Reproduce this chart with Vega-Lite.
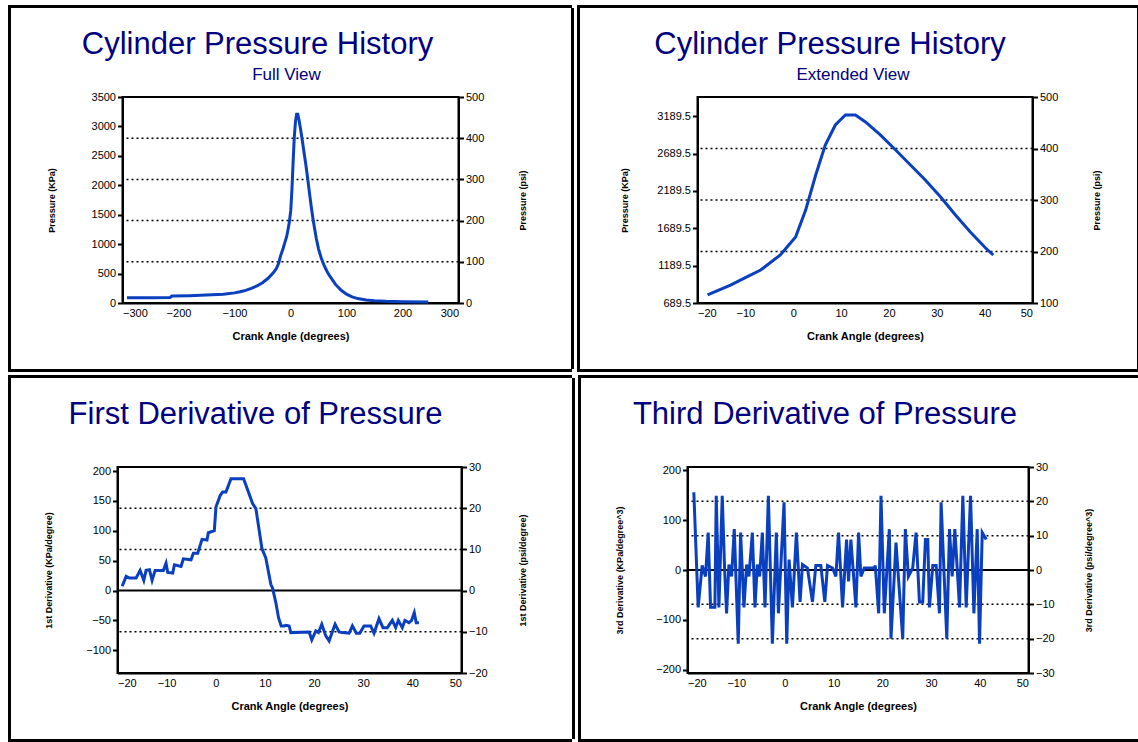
{
  "$schema": "https://vega.github.io/schema/vega-lite/v6.json",
  "background": "white",
  "padding": {"left": 8, "top": 5, "right": 0, "bottom": 0},
  "spacing": 3,
  "datasets": {
    "none": [],
    "pressure": [
      {"angle": -292, "kpa": 88}, {"angle": -250, "kpa": 90}, {"angle": -215, "kpa": 92},
      {"angle": -212, "kpa": 118}, {"angle": -180, "kpa": 125}, {"angle": -150, "kpa": 135},
      {"angle": -120, "kpa": 150}, {"angle": -100, "kpa": 172}, {"angle": -90, "kpa": 190},
      {"angle": -80, "kpa": 215}, {"angle": -70, "kpa": 250}, {"angle": -60, "kpa": 290},
      {"angle": -50, "kpa": 345}, {"angle": -40, "kpa": 420}, {"angle": -30, "kpa": 520},
      {"angle": -25, "kpa": 590}, {"angle": -21, "kpa": 680}, {"angle": -17.9, "kpa": 797},
      {"angle": -13.1, "kpa": 930}, {"angle": -10, "kpa": 1030}, {"angle": -6.8, "kpa": 1131},
      {"angle": -2.7, "kpa": 1332}, {"angle": 0.5, "kpa": 1573}, {"angle": 2.6, "kpa": 1934},
      {"angle": 4.7, "kpa": 2403}, {"angle": 6.7, "kpa": 2805}, {"angle": 8.8, "kpa": 3073},
      {"angle": 10.9, "kpa": 3206}, {"angle": 13.0, "kpa": 3206}, {"angle": 15.1, "kpa": 3113},
      {"angle": 18.2, "kpa": 2939}, {"angle": 21.4, "kpa": 2738}, {"angle": 24.5, "kpa": 2537},
      {"angle": 27.6, "kpa": 2336}, {"angle": 30.8, "kpa": 2108}, {"angle": 33.9, "kpa": 1867},
      {"angle": 37.0, "kpa": 1640}, {"angle": 40.2, "kpa": 1426}, {"angle": 41.8, "kpa": 1332},
      {"angle": 46, "kpa": 1100}, {"angle": 50, "kpa": 920}, {"angle": 55, "kpa": 760},
      {"angle": 60, "kpa": 640}, {"angle": 65, "kpa": 540}, {"angle": 70, "kpa": 460},
      {"angle": 80, "kpa": 320}, {"angle": 90, "kpa": 220}, {"angle": 100, "kpa": 150},
      {"angle": 110, "kpa": 105}, {"angle": 120, "kpa": 75}, {"angle": 135, "kpa": 50},
      {"angle": 150, "kpa": 38}, {"angle": 170, "kpa": 28}, {"angle": 200, "kpa": 20},
      {"angle": 246, "kpa": 15}
    ],
    "first": [
      {"angle": -19.05, "v": 7.2}, {"angle": -18.24, "v": 23.8}, {"angle": -17.56, "v": 21.0},
      {"angle": -16.21, "v": 21.0}, {"angle": -15.40, "v": 33.8}, {"angle": -14.65, "v": 17.2},
      {"angle": -14.18, "v": 33.8}, {"angle": -13.50, "v": 34.9}, {"angle": -12.96, "v": 17.2},
      {"angle": -12.35, "v": 33.8}, {"angle": -10.66, "v": 33.8}, {"angle": -10.12, "v": 45.9},
      {"angle": -9.78, "v": 30.4}, {"angle": -8.76, "v": 29.3}, {"angle": -8.42, "v": 43.2},
      {"angle": -7.07, "v": 40.4}, {"angle": -6.60, "v": 53.1}, {"angle": -5.04, "v": 51.5},
      {"angle": -4.56, "v": 62.5}, {"angle": -3.68, "v": 62.5}, {"angle": -2.80, "v": 85.8},
      {"angle": -1.79, "v": 84.7}, {"angle": -1.52, "v": 96.8}, {"angle": -0.30, "v": 100.2},
      {"angle": 0.04, "v": 140.0}, {"angle": 0.92, "v": 159.4}, {"angle": 1.39, "v": 164.9},
      {"angle": 2.07, "v": 164.9}, {"angle": 3.09, "v": 187.0}, {"angle": 5.66, "v": 187.0},
      {"angle": 7.49, "v": 145.5}, {"angle": 8.16, "v": 137.2}, {"angle": 9.38, "v": 70.8},
      {"angle": 10.19, "v": 54.2}, {"angle": 11.21, "v": 10.0}, {"angle": 11.55, "v": 4.4},
      {"angle": 12.23, "v": -20.5}, {"angle": 12.77, "v": -45.4}, {"angle": 13.31, "v": -59.2},
      {"angle": 13.92, "v": -59.2}, {"angle": 14.26, "v": -58.1}, {"angle": 14.93, "v": -59.2},
      {"angle": 15.27, "v": -70.3}, {"angle": 19.00, "v": -69.2}, {"angle": 19.54, "v": -82.5},
      {"angle": 20.35, "v": -67.5}, {"angle": 20.89, "v": -70.3}, {"angle": 21.57, "v": -56.4},
      {"angle": 22.38, "v": -75.8}, {"angle": 23.06, "v": -84.1}, {"angle": 24.28, "v": -56.4},
      {"angle": 25.09, "v": -69.2}, {"angle": 25.77, "v": -70.3}, {"angle": 27.12, "v": -71.4},
      {"angle": 27.80, "v": -59.2}, {"angle": 28.61, "v": -71.4}, {"angle": 29.29, "v": -71.4},
      {"angle": 30.17, "v": -59.2}, {"angle": 31.52, "v": -59.2}, {"angle": 32.20, "v": -71.4},
      {"angle": 33.21, "v": -47.0}, {"angle": 34.02, "v": -62.0}, {"angle": 34.90, "v": -62.0},
      {"angle": 35.92, "v": -49.8}, {"angle": 36.60, "v": -62.0}, {"angle": 37.14, "v": -49.8},
      {"angle": 37.95, "v": -62.0}, {"angle": 38.49, "v": -49.8}, {"angle": 39.31, "v": -53.7},
      {"angle": 39.85, "v": -49.8}, {"angle": 40.39, "v": -37.1}, {"angle": 40.79, "v": -53.7},
      {"angle": 41.34, "v": -53.7}
    ],
    "third": [
      {"angle": -18.70, "v": 156}, {"angle": -17.81, "v": -75}, {"angle": -16.99, "v": 9},
      {"angle": -16.30, "v": -13}, {"angle": -15.75, "v": 75}, {"angle": -15.27, "v": -75},
      {"angle": -14.38, "v": -75}, {"angle": -14.10, "v": 149}, {"angle": -13.55, "v": -75},
      {"angle": -12.87, "v": 149}, {"angle": -12.39, "v": 4}, {"angle": -11.98, "v": -87},
      {"angle": -11.50, "v": 11}, {"angle": -10.95, "v": -13}, {"angle": -10.40, "v": 82},
      {"angle": -9.58, "v": -148}, {"angle": -9.10, "v": 75}, {"angle": -8.41, "v": -75},
      {"angle": -7.86, "v": 11}, {"angle": -7.38, "v": -13}, {"angle": -6.69, "v": 75},
      {"angle": -6.15, "v": -75}, {"angle": -5.67, "v": 11}, {"angle": -5.19, "v": -13},
      {"angle": -4.64, "v": 75}, {"angle": -4.09, "v": -75}, {"angle": -3.40, "v": 149},
      {"angle": -2.58, "v": -148}, {"angle": -1.76, "v": 75}, {"angle": -1.34, "v": -87},
      {"angle": -0.18, "v": 136}, {"angle": 0.37, "v": -148}, {"angle": 0.85, "v": 21},
      {"angle": 1.54, "v": -75}, {"angle": 2.36, "v": 75}, {"angle": 3.11, "v": -64},
      {"angle": 3.60, "v": 11}, {"angle": 4.62, "v": 4}, {"angle": 5.65, "v": -64},
      {"angle": 6.34, "v": 9}, {"angle": 7.37, "v": 9}, {"angle": 8.19, "v": -64},
      {"angle": 8.74, "v": 9}, {"angle": 9.77, "v": 4}, {"angle": 10.46, "v": -13},
      {"angle": 11.00, "v": 75}, {"angle": 11.83, "v": -75}, {"angle": 12.65, "v": 61},
      {"angle": 13.06, "v": -23}, {"angle": 13.54, "v": 61}, {"angle": 14.57, "v": -75},
      {"angle": 15.12, "v": 75}, {"angle": 15.60, "v": -13}, {"angle": 16.29, "v": 4},
      {"angle": 18.34, "v": 4}, {"angle": 18.55, "v": 9}, {"angle": 19.24, "v": -87},
      {"angle": 19.72, "v": 149}, {"angle": 20.40, "v": -87}, {"angle": 21.43, "v": 82},
      {"angle": 21.77, "v": -138}, {"angle": 22.80, "v": 55}, {"angle": 24.18, "v": -138},
      {"angle": 24.72, "v": 82}, {"angle": 25.34, "v": -13}, {"angle": 26.23, "v": 4},
      {"angle": 26.92, "v": 75}, {"angle": 27.61, "v": -64}, {"angle": 28.29, "v": -64},
      {"angle": 28.84, "v": 61}, {"angle": 29.32, "v": 61}, {"angle": 29.66, "v": -75},
      {"angle": 30.35, "v": 9}, {"angle": 31.04, "v": 9}, {"angle": 31.72, "v": -87},
      {"angle": 32.06, "v": 136}, {"angle": 33.23, "v": -138}, {"angle": 33.78, "v": 82},
      {"angle": 34.33, "v": -13}, {"angle": 34.88, "v": 82}, {"angle": 35.84, "v": -75},
      {"angle": 36.52, "v": 149}, {"angle": 37.21, "v": -75}, {"angle": 38.10, "v": 149},
      {"angle": 38.79, "v": -87}, {"angle": 39.47, "v": 82}, {"angle": 39.95, "v": -148},
      {"angle": 40.50, "v": 75}, {"angle": 41.33, "v": 61}
    ]
  },
  "vconcat": [
    {
      "spacing": 3,
      "hconcat": [
        {
          "spacing": 0,
          "vconcat": [
            {"width": 564, "height": 3, "data": {"name": "none"}, "mark": "rect", "encoding": {}, "view": {"fill": "black", "stroke": null}},
            {
              "spacing": 35.5,
              "hconcat": [
                {"width": 3, "height": 361, "data": {"name": "none"}, "mark": "rect", "encoding": {}, "view": {"fill": "black", "stroke": null}},
                {
                  "spacing": 42.5,
                  "hconcat": [
                    {
                      "spacing": 5,
                      "vconcat": [
                        {"width": 336, "height": 1, "data": {"name": "none"}, "mark": "rect", "encoding": {}, "view": {"stroke": null},
                          "title": {"text": "Cylinder Pressure History", "orient": "bottom", "offset": 21, "dx": -33}},
                        {
                          "width": 336,
                          "height": 206,
                          "title": {"text": "Full View", "fontSize": 17, "dx": -4, "offset": 7},
                          "layer": [
                            {
                              "data": {"values": [{"psi": 100}, {"psi": 200}, {"psi": 300}, {"psi": 400}]},
                              "mark": {"type": "rule", "color": "black", "strokeWidth": 1.5, "strokeDash": [2, 3]},
                              "encoding": {
                                "y": {"field": "psi", "type": "quantitative", "scale": {"domain": [0, 500]},
                                  "axis": {"orient": "right", "values": [0, 100, 200, 300, 400, 500], "title": "Pressure (psi)", "titleX": 64, "titleAngle": 90}}
                              }
                            },
                            {
                              "data": {"name": "pressure"},
                              "mark": {"type": "line", "color": "#0a3fc0", "strokeWidth": 3},
                              "encoding": {
                                "x": {"field": "angle", "type": "quantitative", "scale": {"domain": [-300, 300]},
                                  "axis": {"values": [-300, -200, -100, 0, 100, 200, 300], "title": "Crank Angle (degrees)"}},
                                "y": {"field": "kpa", "type": "quantitative", "scale": {"domain": [0, 3500]},
                                  "axis": {"orient": "left", "values": [0, 500, 1000, 1500, 2000, 2500, 3000, 3500], "format": "d", "title": "Pressure (KPa)", "titleX": -71}}
                              }
                            }
                          ],
                          "resolve": {"scale": {"y": "independent"}, "axis": {"y": "independent"}}
                        }
                      ]
                    },
                    {"width": 3, "height": 361, "data": {"name": "none"}, "mark": "rect", "encoding": {}, "view": {"fill": "black", "stroke": null}}
                  ]
                }
              ]
            },
            {"width": 564, "height": 3, "data": {"name": "none"}, "mark": "rect", "encoding": {}, "view": {"fill": "black", "stroke": null}}
          ]
        },
        {
          "spacing": 0,
          "vconcat": [
            {"width": 561, "height": 3, "data": {"name": "none"}, "mark": "rect", "encoding": {}, "view": {"fill": "black", "stroke": null}},
            {
              "spacing": 39.5,
              "hconcat": [
                {"width": 3, "height": 361, "data": {"name": "none"}, "mark": "rect", "encoding": {}, "view": {"fill": "black", "stroke": null}},
                {
                  "spacing": 34.5,
                  "hconcat": [
                    {
                      "spacing": 5,
                      "vconcat": [
                        {"width": 335, "height": 1, "data": {"name": "none"}, "mark": "rect", "encoding": {}, "view": {"stroke": null},
                          "title": {"text": "Cylinder Pressure History", "orient": "bottom", "offset": 21, "dx": -35}},
                        {
                          "width": 335,
                          "height": 206,
                          "title": {"text": "Extended View", "fontSize": 17, "dx": -12, "offset": 7},
                          "layer": [
                            {
                              "data": {"values": [{"psi": 200}, {"psi": 300}, {"psi": 400}]},
                              "mark": {"type": "rule", "color": "black", "strokeWidth": 1.5, "strokeDash": [2, 3]},
                              "encoding": {
                                "y": {"field": "psi", "type": "quantitative", "scale": {"domain": [100, 500]},
                                  "axis": {"orient": "right", "values": [100, 200, 300, 400, 500], "title": "Pressure (psi)", "titleX": 64, "titleAngle": 90}}
                              }
                            },
                            {
                              "data": {"name": "pressure"},
                              "transform": [{"filter": "datum.angle >= -18 && datum.angle <= 42"}],
                              "mark": {"type": "line", "color": "#0a3fc0", "strokeWidth": 3},
                              "encoding": {
                                "x": {"field": "angle", "type": "quantitative", "scale": {"domain": [-20, 50]},
                                  "axis": {"values": [-20, -10, 0, 10, 20, 30, 40, 50], "title": "Crank Angle (degrees)"}},
                                "y": {"field": "kpa", "type": "quantitative", "scale": {"domain": [689.5, 3447.4]},
                                  "axis": {"orient": "left", "values": [689.5, 1189.5, 1689.5, 2189.5, 2689.5, 3189.5], "format": ".1f", "title": "Pressure (KPa)", "titleX": -73}}
                              }
                            }
                          ],
                          "resolve": {"scale": {"y": "independent"}, "axis": {"y": "independent"}}
                        }
                      ]
                    },
                    {"width": 3, "height": 361, "data": {"name": "none"}, "mark": "rect", "encoding": {}, "view": {"fill": "black", "stroke": null}}
                  ]
                }
              ]
            },
            {"width": 561, "height": 3, "data": {"name": "none"}, "mark": "rect", "encoding": {}, "view": {"fill": "black", "stroke": null}}
          ]
        }
      ]
    },
    {
      "spacing": 3,
      "hconcat": [
        {
          "spacing": 0,
          "vconcat": [
            {"width": 564, "height": 3, "data": {"name": "none"}, "mark": "rect", "encoding": {}, "view": {"fill": "black", "stroke": null}},
            {
              "spacing": 31.5,
              "hconcat": [
                {"width": 3, "height": 361, "data": {"name": "none"}, "mark": "rect", "encoding": {}, "view": {"fill": "black", "stroke": null}},
                {
                  "spacing": 43.5,
                  "hconcat": [
                    {
                      "spacing": 30,
                      "vconcat": [
                        {"width": 344, "height": 1, "data": {"name": "none"}, "mark": "rect", "encoding": {}, "view": {"stroke": null},
                          "title": {"text": "First Derivative of Pressure", "orient": "bottom", "offset": 21, "dx": -34}},
                        {
                          "width": 344,
                          "height": 206,
                          "layer": [
                            {
                              "data": {"values": [{"psi": -10}, {"psi": 10}, {"psi": 20}]},
                              "mark": {"type": "rule", "color": "black", "strokeWidth": 1.5, "strokeDash": [2, 3]},
                              "encoding": {
                                "y": {"field": "psi", "type": "quantitative", "scale": {"domain": [-20, 30]},
                                  "axis": {"orient": "right", "values": [-20, -10, 0, 10, 20, 30], "title": "1st Derivative (psi/degree)", "titleX": 61, "titleAngle": 90}}
                              }
                            },
                            {
                              "data": {"values": [{"psi": 0}]},
                              "mark": {"type": "rule", "color": "black", "strokeWidth": 2},
                              "encoding": {
                                "y": {"field": "psi", "type": "quantitative", "scale": {"domain": [-20, 30]}, "axis": null}
                              }
                            },
                            {
                              "data": {"name": "first"},
                              "mark": {"type": "line", "color": "#0a3fc0", "strokeWidth": 3},
                              "encoding": {
                                "x": {"field": "angle", "type": "quantitative", "scale": {"domain": [-20, 50]},
                                  "axis": {"values": [-20, -10, 0, 10, 20, 30, 40, 50], "title": "Crank Angle (degrees)"}},
                                "y": {"field": "v", "type": "quantitative", "scale": {"domain": [-137.9, 206.8]},
                                  "axis": {"orient": "left", "values": [-100, -50, 0, 50, 100, 150, 200], "title": "1st Derivative (KPa/degree)", "titleX": -69}}
                              }
                            }
                          ],
                          "resolve": {"scale": {"y": "independent"}, "axis": {"y": "independent"}}
                        }
                      ]
                    },
                    {"width": 3, "height": 361, "data": {"name": "none"}, "mark": "rect", "encoding": {}, "view": {"fill": "black", "stroke": null}}
                  ]
                }
              ]
            },
            {"width": 564, "height": 3, "data": {"name": "none"}, "mark": "rect", "encoding": {}, "view": {"fill": "black", "stroke": null}}
          ]
        },
        {
          "spacing": 0,
          "vconcat": [
            {"width": 561, "height": 3, "data": {"name": "none"}, "mark": "rect", "encoding": {}, "view": {"fill": "black", "stroke": null}},
            {
              "spacing": 32.5,
              "hconcat": [
                {"width": 3, "height": 361, "data": {"name": "none"}, "mark": "rect", "encoding": {}, "view": {"fill": "black", "stroke": null}},
                {
                  "spacing": 44.5,
                  "hconcat": [
                    {
                      "spacing": 30,
                      "vconcat": [
                        {"width": 341, "height": 1, "data": {"name": "none"}, "mark": "rect", "encoding": {}, "view": {"stroke": null},
                          "title": {"text": "Third Derivative of Pressure", "orient": "bottom", "offset": 21, "dx": -33}},
                        {
                          "width": 341,
                          "height": 206,
                          "layer": [
                            {
                              "data": {"values": [{"psi": -20}, {"psi": -10}, {"psi": 10}, {"psi": 20}]},
                              "mark": {"type": "rule", "color": "black", "strokeWidth": 1.5, "strokeDash": [2, 3]},
                              "encoding": {
                                "y": {"field": "psi", "type": "quantitative", "scale": {"domain": [-30, 30]},
                                  "axis": {"orient": "right", "values": [-30, -20, -10, 0, 10, 20, 30], "title": "3rd Derivative (psi/degree^3)", "titleX": 60, "titleAngle": 90}}
                              }
                            },
                            {
                              "data": {"values": [{"psi": 0}]},
                              "mark": {"type": "rule", "color": "black", "strokeWidth": 2},
                              "encoding": {
                                "y": {"field": "psi", "type": "quantitative", "scale": {"domain": [-30, 30]}, "axis": null}
                              }
                            },
                            {
                              "data": {"name": "third"},
                              "mark": {"type": "line", "color": "#0a3fc0", "strokeWidth": 3},
                              "encoding": {
                                "x": {"field": "angle", "type": "quantitative", "scale": {"domain": [-20, 50]},
                                  "axis": {"values": [-20, -10, 0, 10, 20, 30, 40, 50], "title": "Crank Angle (degrees)"}},
                                "y": {"field": "v", "type": "quantitative", "scale": {"domain": [-206.8, 206.8]},
                                  "axis": {"orient": "left", "values": [-200, -100, 0, 100, 200], "title": "3rd Derivative (KPa/degree^3)", "titleX": -68}}
                              }
                            }
                          ],
                          "resolve": {"scale": {"y": "independent"}, "axis": {"y": "independent"}}
                        }
                      ]
                    },
                    {"width": 3, "height": 361, "data": {"name": "none"}, "mark": "rect", "encoding": {}, "view": {"fill": "black", "stroke": null}}
                  ]
                }
              ]
            },
            {"width": 561, "height": 3, "data": {"name": "none"}, "mark": "rect", "encoding": {}, "view": {"fill": "black", "stroke": null}}
          ]
        }
      ]
    }
  ],
  "config": {
    "font": "Liberation Sans",
    "view": {"stroke": "black", "strokeWidth": 2},
    "axis": {
      "labelFont": "Liberation Sans",
      "labelFontSize": 11,
      "labelColor": "black",
      "domainColor": "black",
      "domainWidth": 2,
      "tickColor": "black",
      "tickWidth": 2,
      "tickSize": 5,
      "grid": false,
      "titleFont": "Liberation Sans",
      "titleFontSize": 9,
      "titleFontWeight": "bold",
      "titleColor": "black"
    },
    "axisY": {"titleBaseline": "middle", "titleAngle": -90},
    "axisX": {"ticks": false, "labelPadding": 4, "titleY": 33, "titleBaseline": "middle", "titleFontSize": 11},
    "title": {"font": "Liberation Sans", "fontSize": 31, "fontWeight": "normal", "color": "#000080", "anchor": "middle", "subtitleColor": "#000080"}
  }
}
